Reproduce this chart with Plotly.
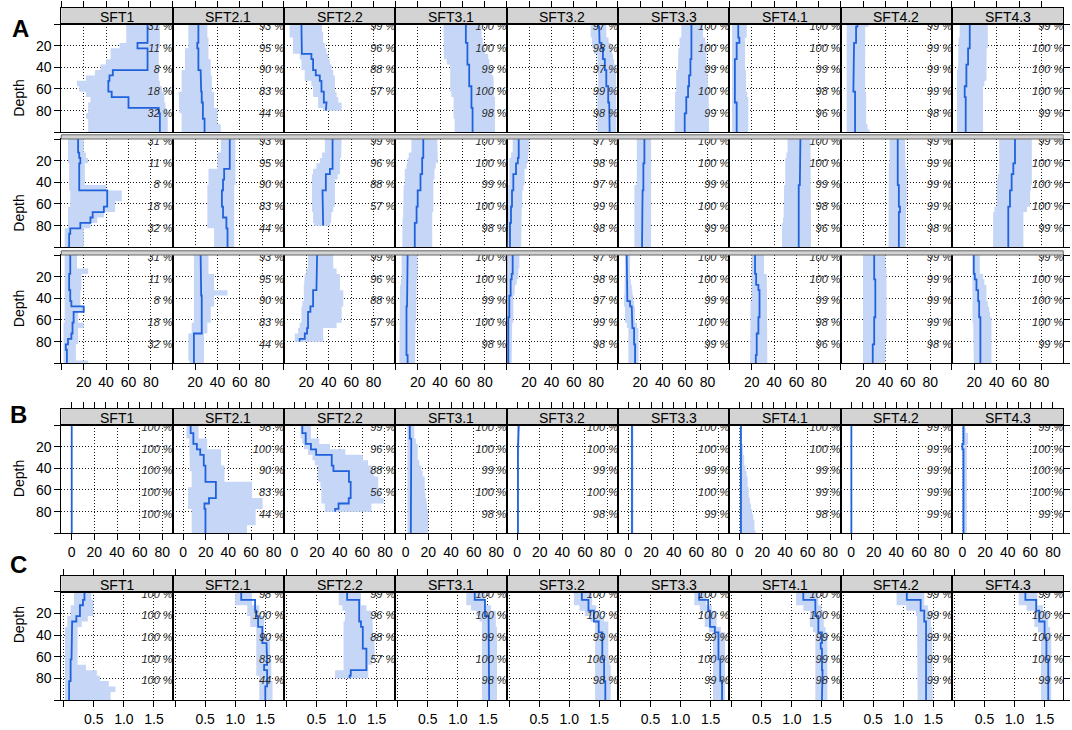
import plotly.graph_objects as go

W, H = 1072, 730
FONT = "Liberation Sans, Arial, sans-serif"
LINE = "#1f62dc"
BAND = "#c6d6f6"
STRIP = "#d3d3d3"
GRID = "#1a1a1a"

SITES = ["SFT1", "SFT2.1", "SFT2.2", "SFT3.1", "SFT3.2", "SFT3.3", "SFT4.1", "SFT4.2", "SFT4.3"]
DEPTH = [0, 5, 10, 15, 20, 25, 30, 35, 40, 45, 50, 55, 60, 65, 70, 75, 80, 85, 90, 95, 100]
LABEL_DEPTH = [3, 23, 43, 63, 83]

PCT_A = [[31, 11, 8, 18, 32], [93, 95, 90, 83, 44], [99, 96, 88, 57], [100, 100, 99, 100, 98],
         [97, 98, 97, 99, 98], [100, 100, 99, 100, 99], [100, 100, 99, 98, 96], [99, 99, 99, 99, 98],
         [99, 100, 100, 100, 99]]
PCT_B = [[100, 100, 100, 100, 100], [98, 100, 90, 83, 44], [99, 96, 88, 56], [100, 100, 99, 100, 98],
         [100, 100, 99, 100, 98], [100, 100, 99, 100, 99], [100, 100, 99, 99, 98], [99, 99, 99, 99, 99],
         [99, 100, 100, 100, 99]]
PCT_C = [[100, 100, 100, 100, 100], [98, 100, 90, 83, 44], [99, 96, 88, 57], [100, 100, 99, 100, 98],
         [100, 100, 99, 100, 98], [100, 100, 99, 100, 99], [100, 100, 99, 99, 98], [99, 99, 99, 99, 99],
         [99, 100, 100, 100, 99]]

# ---- panel A, row 1 ----
A1_MED = [
    [77, 77, 77, 77, 68, 77, 77, 77, 77, 46, 43, 42, 42, 45, 60, 60, 87, 88, 88, 88, 88],
    [23, 23, 23, 23, 22, 23, 23, 23, 23, 25, 25, 25, 25.5, 26, 26, 27, 27, 27, 28.5, 28.5, 28.5],
    [15.6, 15.6, 15.6, 15.6, 15.6, 16, 24.5, 26, 26, 28.4, 32, 33.5, 33.5, 35.6, 35.6, 38, 37.4],
    [63, 63, 63, 63, 64.4, 64.4, 64.4, 64.4, 66, 66, 66, 66, 68, 68, 68, 68, 69, 69, 69, 69, 69],
    [81.7, 82.6, 83, 83, 84.7, 86, 86, 87.7, 87.7, 89, 89, 89, 90.7, 90.7, 90.7, 91.6, 91.6, 91.6, 92, 92, 92],
    [65.6, 65.6, 65.6, 65.6, 65.6, 65.6, 65.6, 64.7, 64.7, 64.7, 63.5, 63.5, 62.6, 62.6, 61, 61, 61, 59.6, 59.6, 59.6, 59.6],
    [8, 8, 8, 9, 6.6, 6.6, 6.6, 5, 5, 5, 5, 5, 5, 5, 5, 6.6, 6.6, 6.6, 6.6, 6.6, 6.6],
    [15, 13.8, 13.8, 13.8, 12, 12, 12, 11.4, 11.4, 11.4, 11.4, 11.4, 11.4, 12.9, 12.9, 12.9, 12.9, 12.9, 12.9, 12.9, 12.9],
    [15.9, 15.9, 15.9, 15.9, 15.9, 14.4, 14.4, 14.4, 12.9, 12.9, 12.9, 12.9, 11.4, 11.4, 12.3, 12.3, 12.3, 12.3, 12.3, 12.3, 12.3],
]
A1_LO = [
    [58, 58, 58, 58, 52, 44, 44, 40, 35, 30, 22, 14, 16, 22, 26, 24, 24, 22, 24, 24, 24],
    [14, 14, 14, 14, 14, 11, 11, 11, 11, 8, 8, 8, 8, 5.4, 5.4, 5.4, 6, 8, 8, 8, 8],
    [5, 5, 5, 8, 8, 8, 14, 15.6, 15.6, 18.5, 18.5, 24.5, 26, 26, 30.5, 30.5, 35],
    [43, 43, 43, 43, 43.4, 43.4, 43.4, 46, 49, 49, 49, 49, 49, 50, 52, 52, 52, 52, 53, 53, 53],
    [75, 75, 75, 76, 76.6, 78, 81, 81, 81, 81.5, 81.7, 81.7, 81.7, 81, 81, 81, 81, 81, 81, 81, 81],
    [56.6, 56.6, 56.6, 55, 55, 54, 53.6, 53.6, 53.6, 52, 52, 52, 52, 51, 50.6, 50.6, 50.6, 50.6, 50.6, 50.6, 50.6],
    [2.5, 2.5, 2.5, 2.5, 2.5, 2.5, 2.5, 2.5, 2.5, 2.5, 2.5, 2.5, 2.5, 2.5, 2.5, 2.5, 2.5, 2.5, 2.5, 2.5, 2.5],
    [5.4, 5.4, 5.4, 5.4, 5.4, 5.4, 5.4, 5.4, 5.4, 5.4, 5.4, 5.4, 5.4, 5.4, 5.4, 5.4, 5.4, 5.4, 5.4, 5.4, 5.4],
    [6.9, 6.9, 6.9, 6, 5.4, 5.4, 5.4, 5.4, 5.4, 4.5, 3.9, 3.9, 3.9, 3.9, 3.9, 4.5, 4.5, 4.5, 4.5, 4.5, 4.5],
]
A1_HI = [
    [88, 88, 88, 88, 88, 87, 87, 87, 87, 87, 87, 88, 90, 92, 92, 93, 94, 95, 95, 95, 95],
    [31, 31, 31, 32, 32, 32, 32, 34, 34, 34, 35, 35, 35, 37, 37, 37, 40, 40, 40, 43, 43],
    [34, 34, 35, 35, 36.5, 38, 39.5, 41, 42.5, 44, 45.5, 45.5, 45.5, 47, 48.5, 51.5, 51.5],
    [77, 77, 77, 78, 78.7, 80, 83, 84, 85, 86, 87.7, 87.7, 87.7, 88, 89, 89, 89, 89, 89, 89, 89],
    [89, 89, 89, 91, 93, 94, 95, 96, 97.6, 97.6, 97.6, 97.6, 97.6, 98, 98, 98, 98, 98, 98, 98, 98],
    [76, 76, 76, 78, 79, 79, 79, 79, 79, 80, 80.5, 80.5, 80.5, 81, 81.4, 81.4, 81.4, 81.4, 81.4, 81.4, 81.4],
    [15.6, 15.6, 15.6, 14, 14, 14, 14, 14, 14, 15, 15, 15, 15, 16, 17, 17, 17, 17, 17, 17, 17],
    [25, 22, 21.9, 21.9, 21.9, 21.9, 21.9, 21.9, 21.9, 21.9, 21.9, 21.9, 21.9, 22.8, 22.8, 22.8, 22.8, 22.8, 22.8, 24, 26],
    [32, 32, 32, 32, 32, 31, 30.8, 30.8, 30.8, 30.8, 30.8, 29, 27.8, 27.8, 27.8, 27.8, 27.8, 27.8, 27.8, 27.8, 27.8],
]

# ---- panel A, row 2 ----
A2_MED = [
    [15, 15, 15, 16, 17, 16, 16, 16, 16, 16, 41, 41, 41, 38, 28, 26, 17, 8, 7, 7, 7],
    [51, 51, 51, 51, 51, 51, 46, 46, 45, 45, 44, 44, 44, 45, 45, 48, 48, 49, 49, 49, 49],
    [43.4, 43.4, 43.4, 43.4, 43.4, 43.4, 41, 37.4, 37.4, 37.4, 34.4, 34.4, 34.4, 34.4, 34.4, 34.4, 35],
    [25, 25, 25, 25, 24, 24, 24, 22.5, 22.5, 22.5, 20, 20, 20, 19, 19, 19, 17.4, 17.4, 17.4, 17.4, 17.4],
    [10.8, 10.8, 10.8, 10.8, 10, 8.4, 8.4, 6, 6, 6, 4.8, 4.8, 4.8, 3.9, 3.9, 3.9, 3, 3, 3, 3, 3],
    [23.6, 23.6, 23.6, 23.6, 23.6, 22.7, 22.7, 22.7, 22.7, 22.7, 22, 22, 22, 21.5, 21.5, 21.5, 21.5, 21.5, 21.5, 21.5, 21.5],
    [63.5, 63.5, 63.5, 63, 63, 63, 63, 63, 63, 62, 62, 62, 62, 62, 62, 62, 62, 62, 62, 62, 62],
    [51, 51, 51, 51, 51, 51, 51, 51, 51, 52, 52, 52, 52, 53, 52, 52, 52, 52, 52, 52, 52],
    [56.3, 56.3, 56.3, 56.3, 56.3, 54.8, 54.8, 53.3, 53.3, 53.3, 51.8, 51.8, 51.8, 50.3, 50.3, 50.3, 50.3, 50.3, 50.3, 50.3, 50.3],
]
A2_LO = [
    [6, 6, 6, 6, 6, 7, 7, 7, 7, 7, 8, 8, 8, 6, 6, 6, 6, 3, 3, 3, 3],
    [43, 43, 43, 40, 40, 40, 32, 32, 32, 31, 31, 31, 31, 31, 31, 31, 31, 37, 37, 37, 37],
    [36.5, 36.5, 36.5, 34, 32, 29, 26, 25, 24.5, 24.5, 24.5, 24.5, 24.5, 25, 26, 26, 27],
    [14.4, 14.4, 14.4, 12, 11, 10, 8.4, 8.4, 8.4, 7.5, 7, 7, 7, 7, 7, 6.5, 6.3, 6.3, 6.3, 6.3, 6.3],
    [5.4, 5.4, 5.4, 4, 2.4, 2.4, 2.4, 2.4, 2.4, 1.5, 0.9, 0.9, 0.9, 0.9, 0.9, 0.9, 0.9, 0.9, 0.9, 0.9, 0.9],
    [16.8, 16.8, 16.8, 16.8, 16.8, 16.8, 16.8, 16.8, 16.8, 14.7, 14.7, 14.7, 14.7, 14.7, 14.7, 14.7, 14.7, 14.7, 14.7, 14.7, 14.7],
    [52, 52, 52, 51, 50, 50, 50, 50, 50, 49, 48.5, 48.5, 48.5, 48.5, 48.5, 48, 47, 47, 47, 47, 47],
    [43.7, 43.7, 43.7, 43.7, 43.7, 43, 42.8, 42.8, 42.8, 42.8, 42.8, 42.8, 42.8, 42.8, 42.8, 42.8, 42.8, 42.8, 42.8, 42.8, 42.8],
    [42.2, 42.2, 42.2, 42.2, 42.2, 42.2, 42.2, 41, 40, 40, 40, 40, 40, 38, 36.8, 36.8, 36.8, 36.8, 36.8, 36.8, 36.8],
]
A2_HI = [
    [20, 20, 20, 22, 24, 21, 21, 21, 21, 40, 54, 54, 48, 48, 38, 32, 26, 20, 20, 20, 20],
    [56, 56, 56, 56, 56, 56, 56, 56, 56, 55, 55, 55, 55, 55, 55, 55, 55, 55, 55, 55, 55],
    [51.5, 51.5, 51.5, 51, 50, 50, 50, 48, 45.5, 45.5, 45.5, 45.5, 45.5, 44, 42.5, 42, 41],
    [37.4, 37.4, 37.4, 38, 38, 36, 35, 35, 34, 34, 34, 34, 34, 34, 33, 33, 33, 33, 33, 33, 33],
    [20, 20, 20, 19.5, 19, 18, 16, 16, 16, 15, 14, 14, 14, 13.5, 13, 13, 13, 13, 13, 13, 13],
    [29.6, 29.6, 29.6, 29.6, 29.6, 29.6, 29.6, 29.6, 29.6, 29.6, 29.6, 29.6, 29.6, 29.6, 29.6, 29.6, 29.6, 29.6, 29.6, 29.6, 29.6],
    [72.5, 72.5, 72.5, 72.5, 72.5, 73, 73, 73, 73, 73, 73, 73, 73, 73, 73, 73, 73, 73, 73, 73, 73],
    [57.5, 57.5, 57.5, 57.5, 57.5, 58, 59, 59, 59, 59, 59, 59, 59, 58.5, 58, 58, 58, 58, 58, 58, 58],
    [71.3, 71.3, 71.3, 71.3, 71.3, 71.3, 71.3, 71.3, 71.3, 70.5, 69.8, 69.8, 69.8, 67, 63.8, 63.8, 63.8, 63.8, 63.8, 63.8, 63.8],
]

# ---- panel A, row 3 ----
A3_MED = [
    [8, 8, 8, 8, 7, 7, 7, 8, 8, 9, 20, 11, 11, 10, 10, 9, 6, 4, 5, 5, 5],
    [25, 25, 25, 25, 25, 25, 25.5, 25.5, 26, 26, 26, 26, 26, 26, 26, 19, 19, 19, 19, 19, 19],
    [29.6, 29.6, 29.6, 29.6, 29.6, 29.6, 29, 26, 26, 26, 23.6, 21.5, 21.5, 21.5, 20.6, 18.6, 14],
    [11, 11, 11, 11, 11, 11, 11, 11, 11, 10.5, 10, 10, 10, 10, 10, 10, 10, 10, 10, 11, 11],
    [5.4, 5.4, 5.4, 5.4, 4.5, 3.6, 3.6, 3.6, 2.4, 2.4, 2.4, 2.4, 1.5, 1.5, 1.5, 1.5, 1.5, 1.5, 1.5, 1.5, 1.5],
    [7.8, 7.8, 7.8, 7.8, 7.8, 7.8, 7.8, 8.4, 8.4, 10.8, 12.3, 12.3, 12.9, 12.9, 14.4, 14.4, 14.4, 15.3, 15.3, 15.3, 15.3],
    [23, 23, 23, 23, 24, 24, 26, 27, 27, 27, 27, 27, 26, 26, 26, 24.5, 24.5, 24.5, 24.5, 23.7, 23.7],
    [30, 30, 30, 30, 30, 31, 31, 31, 31, 31, 31, 31, 30, 30, 30, 30, 30, 28.7, 28.7, 28.7, 28.7],
    [19.5, 19.5, 19.5, 19.5, 20.4, 21.9, 21.9, 23.4, 23.4, 24.3, 24.3, 24.3, 25.4, 25.4, 25.4, 25.4, 25.4, 25.4, 25.4, 25.4, 25.4],
]
A3_LO = [
    [3, 3, 3, 3, 3, 3, 3, 3, 3, 3, 3, 3, 3, 2, 2, 2, 2, 2, 2, 2, 2],
    [19, 19, 19, 19, 19, 19, 19, 19, 19, 19, 19, 19, 19, 17, 17, 14, 14, 14, 14, 14, 15],
    [21.5, 21.5, 21.5, 20, 18.6, 18, 17.7, 17.7, 17.7, 16.5, 15.6, 15.6, 15.6, 14, 12.6, 9.6, 9.6],
    [5.7, 5.7, 5.7, 5.7, 5.7, 5, 4.2, 4.2, 4.2, 4.2, 4.2, 4.2, 4.2, 4, 3.6, 3.6, 3.6, 3.6, 3.6, 3.6, 3.6],
    [0.5, 0.5, 0.5, 0.5, 0.5, 0.5, 0.5, 0.5, 0.5, 0.5, 0.5, 0.5, 0.5, 0.5, 0.5, 0.5, 0.5, 0.5, 0.5, 0.5, 0.5],
    [6.3, 6.3, 6.3, 6.3, 6.3, 6.3, 6.3, 5.8, 5.4, 5.4, 6.3, 6.3, 6.3, 8, 9.3, 9.3, 9.3, 9.3, 9.3, 9.3, 9.3],
    [20, 20, 20, 20, 20, 20, 20, 20, 20, 19, 18.6, 18.6, 18.6, 18.6, 18.6, 18.6, 18.6, 18.6, 18.6, 18.6, 18.6],
    [20, 20, 20, 20, 20, 20, 20, 20, 20, 20, 20, 20, 20, 20, 20, 20, 20, 20, 20, 20, 20],
    [18.3, 18.3, 18.3, 18.3, 18.3, 18.3, 18.3, 18.3, 18.3, 18.3, 18.3, 18.3, 18.3, 19, 19.5, 19.5, 19.5, 19.5, 19.5, 19.5, 19.5],
]
A3_HI = [
    [14, 14, 14, 24, 18, 18, 18, 17, 17, 17, 21, 15, 15, 20, 15, 15, 15, 13, 13, 13, 24],
    [32, 32, 32, 32, 37, 37, 37, 49, 37, 37, 34, 34, 34, 31, 31, 28, 28, 28, 28, 28, 28],
    [44, 44, 44, 47, 50, 50, 50, 53, 53, 53, 51.5, 51.5, 51.5, 47, 35, 35, 35],
    [19.8, 19.8, 19.8, 19.8, 19.8, 19, 18.6, 18.6, 18.6, 18.6, 18.6, 18.6, 18.6, 18, 17.7, 17.7, 17.7, 17.7, 17.7, 17.7, 17.7],
    [11.4, 11.4, 11.4, 10.5, 10.5, 9, 7.5, 7, 6, 6, 6, 6, 6, 5, 4.5, 4.5, 4.5, 4.5, 4.5, 4.5, 4.5],
    [10.8, 10.8, 10.8, 10.8, 10.8, 11.5, 12.3, 13, 13.8, 14.5, 15.3, 15.3, 15.3, 17, 18.3, 18.3, 18.3, 18.3, 18.3, 18.3, 18.3],
    [31, 31, 31, 31, 33.5, 33.5, 33.5, 34, 34, 34, 34, 34, 34, 34, 34, 34, 34, 34, 34, 34, 34],
    [40, 40, 40, 41, 41.3, 41.3, 41.3, 41.3, 41.3, 41.3, 41.3, 41.3, 41.3, 41.3, 41.3, 41, 40, 40, 40, 40, 40],
    [24.9, 24.9, 24.9, 24.9, 27.8, 29, 30.8, 30.8, 30.8, 32, 33.2, 34, 35.3, 35.3, 35.3, 35.3, 35.3, 35.3, 35.3, 35.3, 35.3],
]

# ---- panel B ----
B_MED = [
    [0, 0, 0, 0, 0, 0, 0, 0, 0, 0, 0, 0, 0, 0, 0, 0, 0, 0, 0, 0, 0],
    [6.7, 6.7, 9.1, 9.1, 12.2, 15.2, 18.3, 18.3, 19.8, 19.8, 19.8, 29, 29, 29, 22.9, 18.9, 19.8, 19.8, 19.8, 19.8, 19.8],
    [7, 7, 10, 10, 14.6, 19.2, 33, 33, 34.5, 48.2, 48.2, 49.7, 49.7, 49.7, 48, 39, 36],
    [3.6, 3.6, 3.6, 4.9, 4.9, 4.9, 4.9, 4.9, 4.9, 4.5, 4.5, 4.5, 4.5, 4.5, 4.5, 4.5, 4.5, 4.5, 4.5, 4.5, 4.5],
    [1.5, 1.5, 1.5, 1, 0.8, 0.8, 0.8, 0.8, 0.8, 0.8, 0.8, 0.8, 0.8, 0.8, 0.8, 0.8, 0.8, 0.8, 0.8, 0.8, 0.8],
    [3.2, 3.2, 3.2, 3.2, 3.2, 3.2, 3.2, 3.2, 3.2, 3.2, 3.2, 3.2, 3.2, 3.2, 3.2, 3.2, 3.2, 3.2, 3.2, 3.2, 3.2],
    [1.1, 1.1, 1.1, 1.1, 1.1, 1.1, 1.1, 1.1, 1.1, 1.1, 1.1, 1.1, 1.1, 1.1, 1.1, 1.1, 1.1, 1.1, 1.1, 1.1, 1.1],
    [0.3, 0.3, 0.3, 0.3, 0.3, 0.3, 0.3, 0.3, 0.3, 0.3, 0.3, 0.3, 0.3, 0.3, 0.3, 0.3, 0.3, 0.3, 0.3, 0.3, 0.3],
    [1, 1, 1, 1, 0, 1, 1, 1, 1, 1, 1, 1, 1, 1, 1, 1, 1, 1, 1, 1, 1],
]
B_LO = [
    [0, 0, 0, 0, 0, 0, 0, 0, 0, 0, 0, 0, 0, 0, 0, 0, 0, 0, 0, 0, 0],
    [3, 3, 3, 5.5, 5.5, 6, 6, 6, 6, 7.6, 7.6, 7.6, 4.5, 4.5, 4.5, 4.5, 7.6, 7.6, 7.6, 7.6, 7.6],
    [5.5, 5.5, 5.5, 7, 8.5, 12, 16, 18, 20.7, 20.7, 20.7, 23, 23.8, 23.8, 23.8, 26.8, 26.8],
    [1.5, 1.5, 1.5, 1.5, 1.5, 1.5, 1.5, 1.5, 1.5, 1.5, 1.5, 1.5, 1.5, 1.5, 1.5, 1.5, 1.5, 1.5, 1.5, 1.5, 1.5],
    [0, 0, 0, 0, 0, 0, 0, 0, 0, 0, 0, 0, 0, 0, 0, 0, 0, 0, 0, 0, 0],
    [2.2, 2.2, 2.2, 2.2, 2.2, 2.2, 2.2, 2.2, 2.2, 2.2, 2.2, 2.2, 2.2, 2.2, 2.2, 2.2, 2.2, 2.2, 2.2, 2.2, 2.2],
    [0, 0, 0, 0, 0, 0, 0, 0, 0, 0, 0, 0, 0, 0, 0, 0, 0, 0, 0, 0, 0],
    [0.3, 0.3, 0.3, 0.3, 0.3, 0.3, 0.3, 0.3, 0.3, 0.3, 0.3, 0.3, 0.3, 0.3, 0.3, 0.3, 0.3, 0.3, 0.3, 0.3, 0.3],
    [0, 0, 0, 0, 0, 0, 0, 0, 0, 0, 0, 0, 0, 0, 0, 0, 0, 0, 0, 0, 0],
]
B_HI = [
    [0, 0, 0, 0, 0, 0, 0, 0, 0, 0, 0, 0, 0, 0, 0, 0, 0, 0, 0, 0, 0],
    [13.7, 13.7, 13.7, 21.3, 21.3, 33.6, 33.6, 33.6, 36.6, 36.6, 36.6, 61, 61, 61, 70.2, 70.2, 64.1, 64.1, 64.1, 56.5, 56.5],
    [14.6, 14.6, 14.6, 22, 31.4, 45, 60.4, 65, 68, 70, 74, 74, 74, 76, 78.8, 68, 68],
    [7.6, 7.6, 7.6, 9, 10.6, 10.6, 10.6, 12, 13.7, 15, 16.8, 16.8, 16.8, 17.5, 18.3, 19, 19.8, 19.8, 19.8, 19.8, 19.8],
    [2, 2, 2, 1.5, 1.5, 1.5, 1.5, 1.5, 1.5, 1.5, 1.5, 1.5, 1.5, 1.5, 1.5, 1.5, 1.5, 1.5, 1.5, 1.5, 1.5],
    [4.5, 4.5, 4.5, 4.5, 4.5, 4.5, 4.5, 4.5, 4.5, 4.5, 4.5, 4.5, 4.5, 4.5, 4.5, 4.5, 4.5, 4.5, 4.5, 4.5, 4.5],
    [1, 1, 2, 2, 3, 3, 4, 4, 5, 6, 7, 7, 8, 8, 9, 10, 11, 12, 13, 13, 14],
    [0.3, 0.3, 0.3, 0.3, 0.3, 0.3, 0.3, 0.3, 0.3, 0.3, 0.3, 0.3, 0.3, 0.3, 0.3, 0.3, 0.3, 0.3, 0.3, 0.3, 0.3],
    [2, 3, 5, 5, 4, 4, 4, 4, 4, 4, 4, 4, 4, 4, 4, 4, 4, 4, 4, 4, 4],
]

# ---- panel C ----
C_MED = [
    [0.345, 0.345, 0.32, 0.27, 0.27, 0.21, 0.14, 0.13, 0.13, 0.13, 0.13, 0.13, 0.13, 0.115, 0.115, 0.115, 0.115, 0.09, 0.09, 0.09, 0.09],
    [1.10, 1.10, 1.33, 1.33, 1.35, 1.38, 1.38, 1.45, 1.45, 1.45, 1.52, 1.52, 1.52, 1.53, 1.48, 1.53, 1.53, 1.53, 1.50, 1.50, 1.50],
    [1.01, 1.01, 1.21, 1.21, 1.21, 1.21, 1.24, 1.27, 1.27, 1.27, 1.27, 1.33, 1.33, 1.33, 1.33, 1.07, 1.05],
    [1.28, 1.28, 1.45, 1.45, 1.45, 1.51, 1.51, 1.52, 1.52, 1.52, 1.52, 1.52, 1.52, 1.52, 1.52, 1.52, 1.52, 1.52, 1.52, 1.52, 1.52],
    [1.21, 1.21, 1.32, 1.32, 1.41, 1.41, 1.49, 1.49, 1.55, 1.55, 1.55, 1.55, 1.55, 1.58, 1.58, 1.58, 1.58, 1.60, 1.60, 1.60, 1.60],
    [1.31, 1.31, 1.46, 1.46, 1.49, 1.49, 1.49, 1.57, 1.63, 1.63, 1.63, 1.63, 1.63, 1.66, 1.66, 1.66, 1.66, 1.69, 1.69, 1.69, 1.69],
    [1.19, 1.19, 1.39, 1.39, 1.39, 1.44, 1.44, 1.44, 1.50, 1.50, 1.48, 1.50, 1.50, 1.49, 1.50, 1.51, 1.50, 1.50, 1.50, 1.50, 1.50],
    [1.06, 1.06, 1.29, 1.29, 1.35, 1.35, 1.38, 1.38, 1.38, 1.38, 1.38, 1.38, 1.38, 1.38, 1.38, 1.38, 1.38, 1.38, 1.38, 1.38, 1.38],
    [1.18, 1.18, 1.36, 1.36, 1.41, 1.41, 1.50, 1.50, 1.50, 1.53, 1.53, 1.53, 1.53, 1.56, 1.56, 1.56, 1.56, 1.56, 1.56, 1.56, 1.56],
]
C_LO = [
    [0.17, 0.17, 0.17, 0.115, 0.115, 0.06, 0.06, 0.02, 0.02, 0.02, 0.02, 0.02, 0.02, 0.02, 0.02, 0.02, 0.02, 0.02, 0.02, 0.02, 0.02],
    [1.0, 1.0, 1.0, 1.2, 1.2, 1.25, 1.25, 1.35, 1.35, 1.35, 1.35, 1.35, 1.35, 1.35, 1.35, 1.35, 1.40, 1.40, 1.40, 1.40, 1.40],
    [0.87, 0.87, 0.87, 0.93, 0.98, 0.97, 0.95, 0.95, 0.95, 0.95, 0.95, 0.95, 0.95, 0.95, 0.95, 0.81, 0.81],
    [1.14, 1.14, 1.14, 1.22, 1.31, 1.36, 1.40, 1.40, 1.40, 1.40, 1.40, 1.40, 1.40, 1.40, 1.40, 1.40, 1.40, 1.40, 1.40, 1.40, 1.40],
    [1.08, 1.08, 1.08, 1.17, 1.26, 1.35, 1.43, 1.43, 1.43, 1.43, 1.43, 1.43, 1.43, 1.43, 1.43, 1.43, 1.43, 1.43, 1.43, 1.43, 1.43],
    [1.23, 1.23, 1.23, 1.32, 1.40, 1.40, 1.40, 1.47, 1.54, 1.54, 1.54, 1.54, 1.54, 1.54, 1.54, 1.54, 1.54, 1.54, 1.54, 1.54, 1.54],
    [1.07, 1.07, 1.07, 1.19, 1.30, 1.30, 1.30, 1.35, 1.39, 1.39, 1.39, 1.39, 1.39, 1.39, 1.39, 1.39, 1.39, 1.39, 1.39, 1.39, 1.39],
    [0.89, 0.89, 0.89, 1.05, 1.21, 1.23, 1.24, 1.24, 1.24, 1.24, 1.24, 1.24, 1.24, 1.24, 1.24, 1.24, 1.24, 1.24, 1.24, 1.24, 1.24],
    [1.07, 1.07, 1.07, 1.20, 1.33, 1.33, 1.33, 1.39, 1.44, 1.44, 1.44, 1.44, 1.44, 1.44, 1.44, 1.44, 1.44, 1.44, 1.44, 1.44, 1.44],
]
C_HI = [
    [0.46, 0.46, 0.49, 0.49, 0.49, 0.40, 0.30, 0.23, 0.23, 0.23, 0.23, 0.23, 0.23, 0.23, 0.37, 0.55, 0.60, 0.75, 0.86, 0.78, 0.78],
    [1.28, 1.28, 1.28, 1.40, 1.40, 1.48, 1.48, 1.48, 1.48, 1.58, 1.58, 1.58, 1.58, 1.60, 1.60, 1.60, 1.60, 1.62, 1.62, 1.62, 1.62],
    [1.24, 1.24, 1.24, 1.33, 1.41, 1.43, 1.44, 1.44, 1.44, 1.46, 1.47, 1.47, 1.47, 1.42, 1.36, 1.36, 1.36],
    [1.45, 1.45, 1.45, 1.55, 1.63, 1.63, 1.63, 1.65, 1.65, 1.65, 1.65, 1.65, 1.65, 1.65, 1.65, 1.65, 1.65, 1.65, 1.65, 1.65, 1.65],
    [1.38, 1.38, 1.38, 1.45, 1.52, 1.58, 1.65, 1.65, 1.65, 1.65, 1.65, 1.65, 1.65, 1.67, 1.69, 1.69, 1.69, 1.69, 1.69, 1.69, 1.69],
    [1.43, 1.43, 1.43, 1.52, 1.60, 1.60, 1.60, 1.67, 1.74, 1.74, 1.74, 1.74, 1.74, 1.74, 1.74, 1.74, 1.74, 1.74, 1.74, 1.74, 1.74],
    [1.44, 1.44, 1.44, 1.49, 1.53, 1.53, 1.53, 1.56, 1.59, 1.59, 1.59, 1.59, 1.59, 1.59, 1.59, 1.59, 1.59, 1.59, 1.59, 1.59, 1.59],
    [1.35, 1.35, 1.35, 1.41, 1.46, 1.46, 1.46, 1.48, 1.49, 1.49, 1.49, 1.49, 1.49, 1.49, 1.49, 1.49, 1.49, 1.49, 1.49, 1.49, 1.49],
    [1.38, 1.38, 1.38, 1.47, 1.56, 1.56, 1.56, 1.59, 1.61, 1.61, 1.61, 1.61, 1.61, 1.61, 1.61, 1.61, 1.61, 1.61, 1.61, 1.61, 1.61],
]

# layout in pixels of the 1072x730 canvas
X0, CW = 61.3, 111.33
SECTIONS = {
    "A": dict(xrange=[0, 99.4], ticks=[0, 20, 40, 60, 80, 100], ticktext=["", "20", "40", "60", "80", ""],
              top=[0, 20, 40, 60, 80, 100], strip=(8, 24), letter=(10, 13)),
    "B": dict(xrange=[-9.2, 89.1], ticks=[0, 20, 40, 60, 80], ticktext=["0", "20", "40", "60", "80"],
              top=[0, 10, 20, 30, 40, 50, 60, 70, 80], strip=(409, 425), letter=(8, 414)),
    "C": dict(xrange=[-0.04, 1.81], ticks=[0, 0.5, 1, 1.5], ticktext=["", "0.5", "1.0", "1.5"],
              top=[0, 0.5, 1, 1.5], strip=(575.7, 591.7), letter=(8, 580)),
}
ROWS = [
    ("A", A1_MED, A1_LO, A1_HI, PCT_A, 24, 132.3, False),
    ("A", A2_MED, A2_LO, A2_HI, PCT_A, 139, 247.3, False),
    ("A", A3_MED, A3_LO, A3_HI, PCT_A, 255, 363.3, True),
    ("B", B_MED, B_LO, B_HI, PCT_B, 425, 533.3, True),
    ("C", C_MED, C_LO, C_HI, PCT_C, 591.7, 700, True),
]
SPACERS = [(134.8, 139), (250.8, 255)]


def fx(p):
    return p / W


def fy(p):
    return 1 - p / H


def steps(vals):
    # each value holds over its 5 m depth slice
    end = DEPTH[len(vals) - 1]
    xs, ys = [], []
    for d, v in zip(DEPTH, vals):
        xs += [v, v]
        ys += [max(0, d - 2.5), min(end, d + 2.5)]
    return xs, ys


fig = go.Figure()
axes = {}
shapes = []
annotations = []
base_axis = dict(showline=True, mirror=True, linecolor="black", linewidth=1, zeroline=False,
                 tickcolor="black", ticklen=6, tickwidth=1, fixedrange=True,
                 tickfont=dict(size=14, color="black"))
n = 0

for sec, med, lo, hi, pct, top, bot, bottom_row in ROWS:
    cfg = SECTIONS[sec]
    for j, site in enumerate(SITES):
        n += 1
        xa, ya = f"x{n}", f"y{n}"
        key = "" if n == 1 else str(n)
        axes["xaxis" + key] = dict(
            base_axis, domain=[fx(X0 + j * CW), fx(X0 + (j + 1) * CW)], range=cfg["xrange"], anchor=ya,
            tickmode="array", tickvals=cfg["ticks"], ticktext=cfg["ticktext"],
            showticklabels=bottom_row, ticks="outside" if bottom_row else "",
            showgrid=True, gridcolor=GRID, gridwidth=1, griddash="1px,2px",
        )
        axes["yaxis" + key] = dict(
            base_axis, domain=[fy(bot), fy(top)], range=[100, 0], anchor=xa,
            tickmode="array", tickvals=[0, 20, 40, 60, 80, 100], ticktext=["", "20", "40", "60", "80", ""],
            showticklabels=(j == 0), ticks="outside" if j in (0, 8) else "",
            side="right" if j == 8 else "left",
            showgrid=True, gridcolor=GRID, gridwidth=1, griddash="1px,2px",
        )
        lx, ly = steps(lo[j])
        ux, uy = steps(hi[j])
        fig.add_trace(go.Scatter(x=lx + ux[::-1], y=ly + uy[::-1], mode="lines", fill="toself",
                                 fillcolor=BAND, line=dict(width=0), xaxis=xa, yaxis=ya, hoverinfo="skip"))
        mx, my = steps(med[j])
        fig.add_trace(go.Scatter(x=mx, y=my, mode="lines", line=dict(color=LINE, width=1.8),
                                 xaxis=xa, yaxis=ya, hoverinfo="skip"))
        labels = pct[j]
        fig.add_trace(go.Scatter(
            x=[cfg["xrange"][1]] * len(labels), y=LABEL_DEPTH[:len(labels)], mode="text",
            text=[f"{v} %" for v in labels], textposition="middle left",
            textfont=dict(family=FONT, size=11, color="#2a2a2a", style="italic"),
            xaxis=xa, yaxis=ya, hoverinfo="skip",
        ))
    annotations.append(dict(text="Depth", xref="paper", yref="paper", x=fx(9), y=fy((top + bot) / 2),
                            textangle=-90, showarrow=False, font=dict(size=14, color="black")))

# strip headers with the top tick marks
for sec in "ABC":
    cfg = SECTIONS[sec]
    h0, h1 = cfg["strip"]
    for j, site in enumerate(SITES):
        n += 1
        xa, ya = f"x{n}", f"y{n}"
        axes[f"xaxis{n}"] = dict(
            base_axis, domain=[fx(X0 + j * CW), fx(X0 + (j + 1) * CW)], range=cfg["xrange"], anchor=ya,
            side="top", tickmode="array", tickvals=cfg["top"], ticks="outside", showticklabels=False, showgrid=False,
        )
        axes[f"yaxis{n}"] = dict(
            base_axis, domain=[fy(h1), fy(h0)], range=[0, 1], anchor=xa,
            ticks="", showticklabels=False, showgrid=False,
        )
        fig.add_trace(go.Scatter(x=[None], y=[None], mode="markers", xaxis=xa, yaxis=ya, hoverinfo="skip"))
        shapes.append(dict(type="rect", xref=f"{xa} domain", yref=f"{ya} domain", x0=0, x1=1, y0=0, y1=1,
                           fillcolor=STRIP, line=dict(width=0), layer="below"))
        annotations.append(dict(text=site, xref=f"{xa} domain", yref=f"{ya} domain", x=0.5, y=0.45,
                                showarrow=False, font=dict(size=14, color="black")))
    lx, ly = cfg["letter"]
    annotations.append(dict(text=f"<b>{sec}</b>", xref="paper", yref="paper", x=fx(lx), y=fy(ly),
                            showarrow=False, font=dict(size=24, color="black")))

for y0, y1 in SPACERS:
    shapes.append(dict(type="rect", xref="paper", yref="paper", x0=fx(X0), x1=fx(X0 + 9 * CW),
                       y0=fy(y1), y1=fy(y0), fillcolor=STRIP, line=dict(color="#666666", width=1)))

fig.update_layout(
    width=W, height=H,
    margin=dict(l=0, r=0, t=0, b=0),
    paper_bgcolor="white",
    plot_bgcolor="white",
    font=dict(family=FONT, size=13, color="black"),
    showlegend=False,
    shapes=shapes,
    annotations=annotations,
    **axes,
)

fig.write_html("out.html", config={"displayModeBar": False},
               post_script="document.body.style.margin='0px';")
